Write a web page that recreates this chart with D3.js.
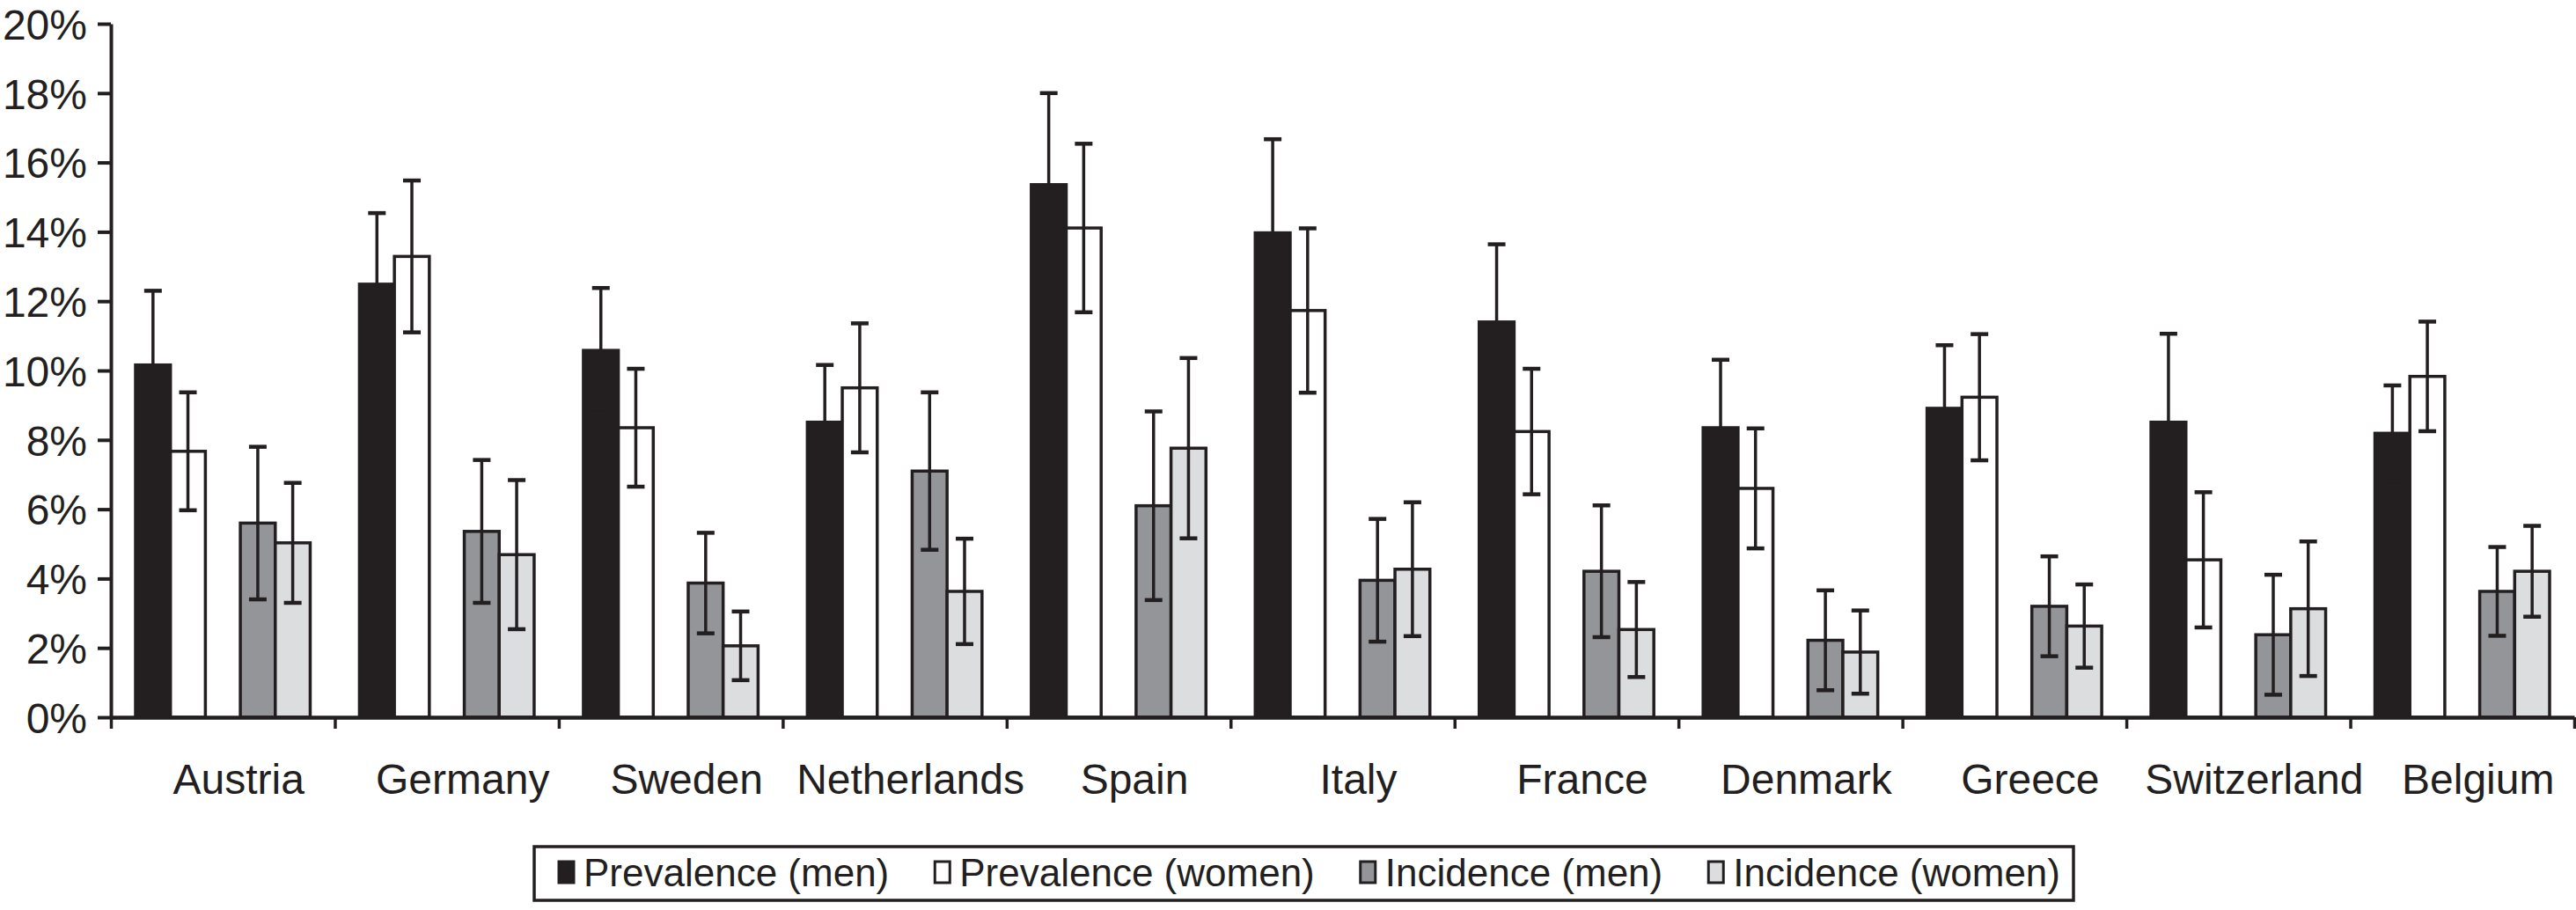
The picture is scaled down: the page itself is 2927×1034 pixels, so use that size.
<!DOCTYPE html>
<html>
<head>
<meta charset="utf-8">
<script src="https://cdn.jsdelivr.net/npm/d3@7"></script>
<style>
  body { margin: 0; background: #fff; }
  text { font-family: "Liberation Sans", Arial, Helvetica, sans-serif; fill: #231f20; }
</style>
</head>
<body>
<svg id="vis"></svg>
<script>
const countries = ["Austria", "Germany", "Sweden", "Netherlands", "Spain", "Italy", "France", "Denmark", "Greece", "Switzerland", "Belgium"];
const prevMen      = [10.16, 12.49, 10.58, 8.51, 15.36, 13.97, 11.40, 8.35, 8.91, 8.51, 8.19];
const prevMenErr   = [2.14, 2.05, 1.80, 1.65, 2.64, 2.70, 2.24, 1.96, 1.82, 2.55, 1.38];
const prevWomen    = [7.67, 13.29, 8.35, 9.50, 14.11, 11.73, 8.24, 6.60, 9.23, 4.54, 9.83];
const prevWomenErr = [1.70, 2.19, 1.70, 1.86, 2.43, 2.37, 1.81, 1.73, 1.82, 1.95, 1.58];
const incMen       = [5.60, 5.36, 3.87, 7.10, 6.10, 3.95, 4.21, 2.22, 3.20, 2.38, 3.63];
const incMenErr    = [2.20, 2.06, 1.45, 2.27, 2.72, 1.77, 1.90, 1.44, 1.44, 1.73, 1.28];
const incWomen     = [5.03, 4.69, 2.06, 3.63, 7.76, 4.27, 2.53, 1.88, 2.63, 3.13, 4.21];
const incWomenErr  = [1.73, 2.15, 0.99, 1.52, 2.60, 1.93, 1.37, 1.20, 1.20, 1.94, 1.31];
const seriesNames  = ["Prevalence (men)", "Prevalence (women)", "Incidence (men)", "Incidence (women)"];
const seriesFills  = ["#231f20", "#ffffff", "#939598", "#dcddde"];
const yTicks = [0, 2, 4, 6, 8, 10, 12, 14, 16, 18, 20];

const W = 2927, H = 1034;
const ink = "#231f20";
const svg = d3.select("#vis").attr("width", W).attr("height", H);

const series = [
  {key: "pm", name: seriesNames[0], fill: seriesFills[0], vals: prevMen, errs: prevMenErr},
  {key: "pw", name: seriesNames[1], fill: seriesFills[1], vals: prevWomen, errs: prevWomenErr},
  {key: "im", name: seriesNames[2], fill: seriesFills[2], vals: incMen, errs: incMenErr},
  {key: "iw", name: seriesNames[3], fill: seriesFills[3], vals: incWomen, errs: incWomenErr}
];

const x0 = d3.scaleBand().domain(countries).range([126, 2925]).padding(0);
const bw = x0.bandwidth();
// middle slot left empty to get the gap between prevalence and incidence pairs
const x1 = d3.scaleBand().domain(["pm", "pw", "gap", "im", "iw"]).range([bw * 0.11, bw * 0.89]).padding(0);
const y = d3.scaleLinear().domain([0, 20]).range([815, 27]);

const rows = [];
series.forEach(s => {
  countries.forEach((c, i) => rows.push({country: c, key: s.key, fill: s.fill, v: s.vals[i], e: s.errs[i]}));
});

const g = svg.append("g");

g.selectAll("rect.bar").data(rows).join("rect")
  .attr("class", "bar")
  .attr("x", d => x0(d.country) + x1(d.key))
  .attr("y", d => y(d.v))
  .attr("width", x1.bandwidth())
  .attr("height", d => y(0) - y(d.v))
  .attr("fill", d => d.fill)
  .attr("stroke", ink)
  .attr("stroke-width", 3.5);

const cx = d => x0(d.country) + x1(d.key) + x1.bandwidth() / 2;
const err = g.selectAll("g.err").data(rows).join("g").attr("class", "err")
  .attr("stroke", ink).attr("stroke-width", 3.5);
err.append("line")
  .attr("x1", cx).attr("x2", cx)
  .attr("y1", d => y(d.v - d.e)).attr("y2", d => y(d.v + d.e));
err.append("line")
  .attr("x1", d => cx(d) - 10).attr("x2", d => cx(d) + 10)
  .attr("y1", d => y(d.v + d.e)).attr("y2", d => y(d.v + d.e))
  .attr("stroke-width", 4.5);
err.append("line")
  .attr("x1", d => cx(d) - 10).attr("x2", d => cx(d) + 10)
  .attr("y1", d => y(d.v - d.e)).attr("y2", d => y(d.v - d.e))
  .attr("stroke-width", 4.5);

// y axis
const yAxis = svg.append("g").attr("transform", "translate(" + x0.range()[0] + ",0)")
  .call(d3.axisLeft(y).tickValues(yTicks).tickFormat(d => d + "%").tickSize(15).tickSizeOuter(0));
yAxis.select(".domain").attr("stroke", ink).attr("stroke-width", 4);
yAxis.selectAll(".tick line").attr("stroke", ink).attr("stroke-width", 4);
yAxis.selectAll(".tick text").attr("font-size", 48).attr("x", -27).attr("dy", "0.36em").attr("fill", ink);

// x axis: ticks on category boundaries
const xi = d3.scaleLinear().domain([0, countries.length]).range(x0.range());
const xAxis = svg.append("g").attr("transform", "translate(0," + y(0) + ")")
  .call(d3.axisBottom(xi).tickValues(d3.range(countries.length + 1)).tickFormat("").tickSize(13).tickSizeOuter(0));
xAxis.select(".domain").attr("stroke", ink).attr("stroke-width", 4.5);
xAxis.selectAll(".tick line").attr("stroke", ink).attr("stroke-width", 3.5);

svg.append("g").selectAll("text").data(countries).join("text")
  .attr("x", d => x0(d) + bw / 2 + 18)
  .attr("y", 902)
  .attr("text-anchor", "middle")
  .attr("font-size", 48)
  .text(d => d);

// legend
const lg = svg.append("g");
lg.append("rect").attr("x", 607).attr("y", 962).attr("width", 1749).attr("height", 61)
  .attr("fill", "#fff").attr("stroke", ink).attr("stroke-width", 3.5);
let lx = 635;
series.forEach(s => {
  lg.append("rect").attr("x", lx).attr("y", 979).attr("width", 17).attr("height", 24)
    .attr("fill", s.fill).attr("stroke", ink).attr("stroke-width", 3);
  const t = lg.append("text").attr("x", lx + 28).attr("y", 1007).attr("font-size", 44).text(s.name);
  lx += 28 + t.node().getComputedTextLength() + 52;
});
</script>
</body>
</html>
